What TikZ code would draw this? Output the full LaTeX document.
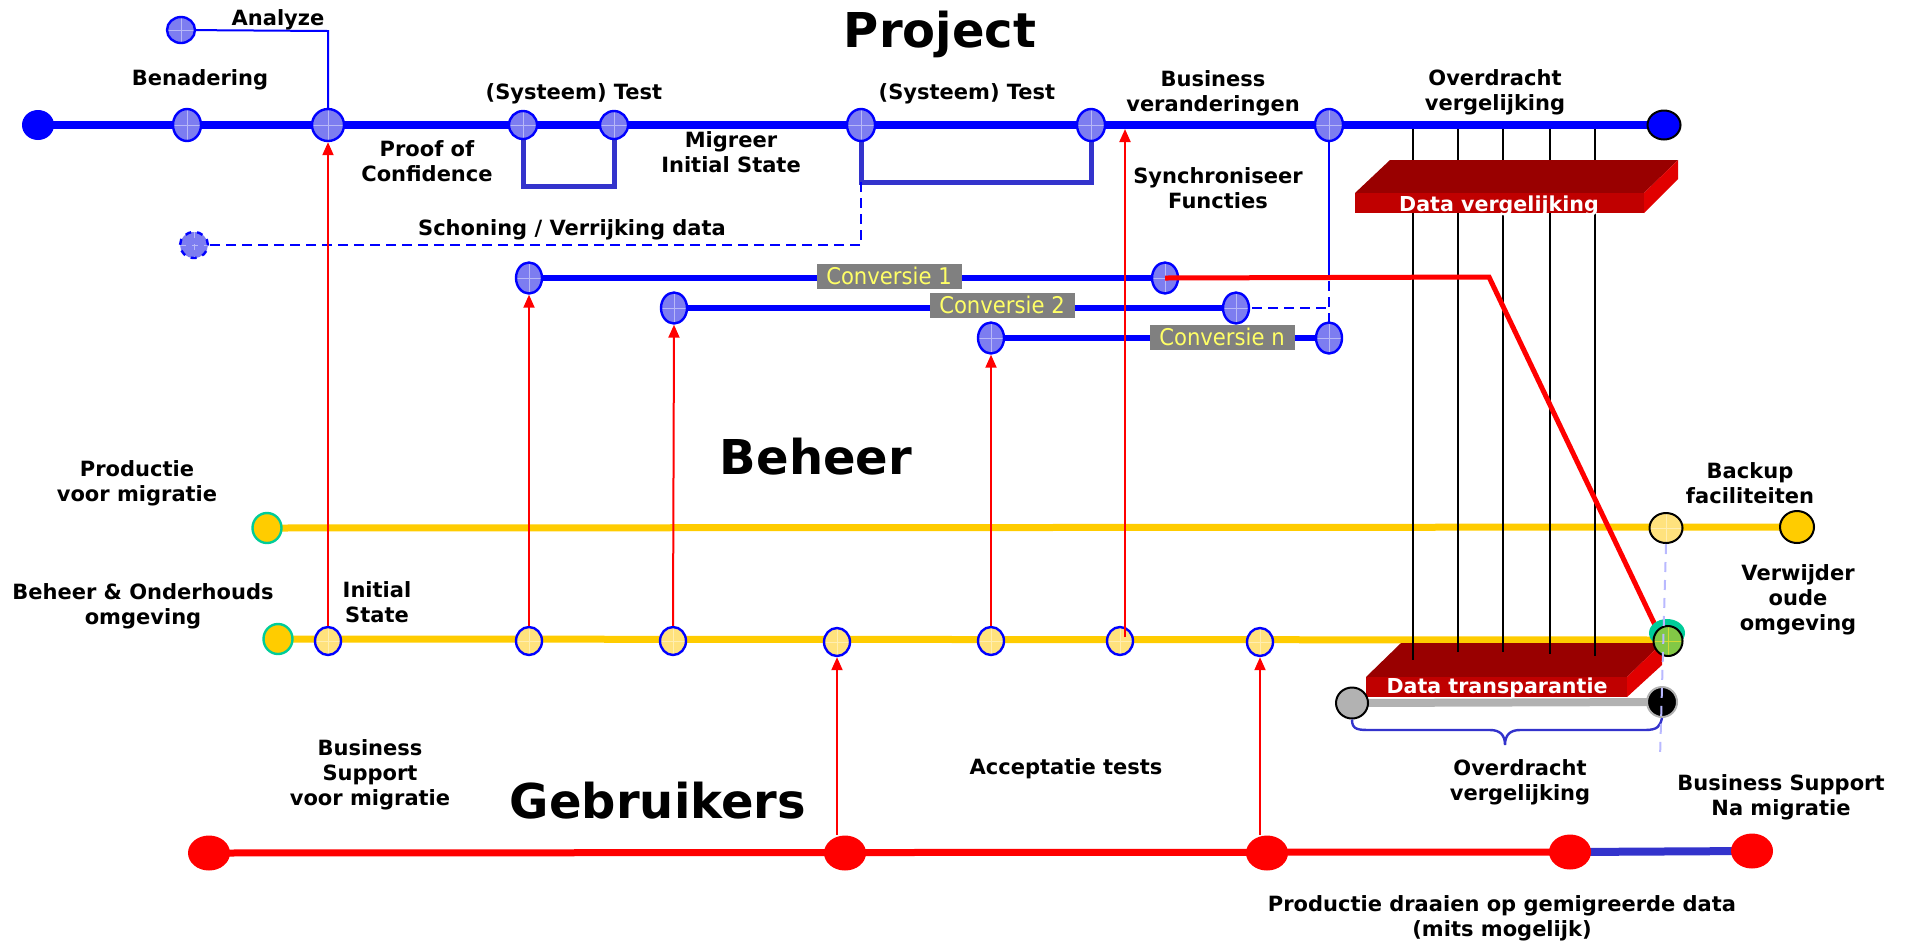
\documentclass[tikz,border=0pt]{standalone}
\usepackage{fontspec}
\setmainfont{DejaVu Sans}
\newfontfamily\convfont{DejaVu Sans}[FakeStretch=0.92]
\usetikzlibrary{shapes.geometric,arrows.meta,calc}
\definecolor{pblue}{RGB}{0,0,255}
\definecolor{nfill}{RGB}{125,125,240}
\definecolor{pyel}{RGB}{255,204,0}
\definecolor{lyel}{RGB}{255,226,125}
\definecolor{teal}{RGB}{0,204,153}
\definecolor{bblue}{RGB}{51,51,204}
\definecolor{boxtop}{RGB}{153,0,0}
\definecolor{boxfront}{RGB}{192,0,0}
\definecolor{boxside}{RGB}{225,0,0}
\definecolor{lgray}{RGB}{178,178,178}
\definecolor{cgray}{RGB}{128,128,128}
\definecolor{cyel}{RGB}{255,255,102}
\definecolor{dblue}{RGB}{185,185,255}
\definecolor{gnode}{RGB}{130,200,70}
\tikzset{
  lbl/.style={font=\bfseries\fontsize{10.5}{12.5}\selectfont, align=center, inner sep=0pt},
  ttl/.style={font=\bfseries\fontsize{24}{28}\selectfont, inner sep=0pt, anchor=base},
  cross/.style={path picture={\draw[#1, line width=0.4pt]
      (path picture bounding box.north) -- (path picture bounding box.south)
      (path picture bounding box.west) -- (path picture bounding box.east);}},
  hnode/.style={ellipse, draw=pblue, fill=nfill, line width=1.2pt, minimum width=14pt,
      minimum height=16pt, inner sep=0pt, cross=white!45!nfill},
  ynode/.style={ellipse, draw=pblue, fill=lyel, line width=1.2pt, minimum width=13pt,
      minimum height=14pt, inner sep=0pt, cross=white!40!lyel},
  tnode/.style={ellipse, draw=teal, fill=pyel, line width=1.2pt, minimum width=14.5pt,
      minimum height=15pt, inner sep=0pt},
  rnode/.style={ellipse, fill=red, minimum width=21pt, minimum height=17.5pt, inner sep=0pt},
  convbox/.style={fill=cgray, text=cyel, font=\convfont\fontsize{11.5}{13}\selectfont,
      minimum height=12.5pt, minimum width=72.5pt, inner sep=0pt},
  pline/.style={draw=pblue, line width=4pt},
  cline/.style={draw=pblue, line width=3pt},
  thinb/.style={draw=pblue, line width=1pt},
  bracket/.style={draw=bblue, line width=2.5pt},
  yline/.style={draw=pyel, line width=3.5pt},
  rarrow/.style={draw=red, line width=1pt, -{Triangle[length=6.5pt,width=5.5pt]}},
  blk/.style={draw=black, line width=1pt},
}
\begin{document}
\begin{tikzpicture}[x=0.5pt,y=-0.5pt]
\useasboundingbox (0,0) rectangle (1905,944);

% ---------- coordinates ----------
\coordinate (P0) at (38,125);
\coordinate (Pend) at (1664,125);
\coordinate (pBen) at (187,125);
\coordinate (pAna) at (328,125);
\coordinate (pT1a) at (523,125);
\coordinate (pT1b) at (614,125);
\coordinate (pT2a) at (861,125);
\coordinate (pT2b) at (1091,125);
\coordinate (pSync) at (1329,125);
\coordinate (aN) at (181,30);
\coordinate (sN) at (194,245);
\coordinate (c1a) at (529,278);
\coordinate (c1b) at (1165,278);
\coordinate (c2a) at (674,308);
\coordinate (c2b) at (1236,308);
\coordinate (cna) at (991,338);
\coordinate (cnb) at (1329,338);
\coordinate (prodL) at (267,528);
\coordinate (prodB) at (1666,528);
\coordinate (prodE) at (1797,527);
\coordinate (behL) at (278,639);
\coordinate (behE) at (1668,640);
\coordinate (g1) at (209,853);
\coordinate (g2) at (845,853);
\coordinate (g3) at (1267,853);
\coordinate (g4) at (1570,852);
\coordinate (g5) at (1752,851);
\coordinate (gN) at (1352,703);
\coordinate (kN) at (1662,702);

% ---------- lines ----------
\draw[pline] (P0) -- (Pend);
\draw[thinb] (aN) -- (328,31) -- (pAna);
\draw[bracket] (pT1a) -- (523,186) -- (614,186) -- (pT1b);
\draw[bracket] (pT2a) -- (861,182) -- (1091,182) -- (pT2b);
\draw[thinb, dash pattern=on 5pt off 3pt] (861,182) -- (861,245) -- (sN);
\draw[thinb] (pSync) -- (1329,265);
\draw[thinb, dash pattern=on 5pt off 3pt] (1329,265) -- (cnb);
\draw[cline] (c1a) -- (c1b);
\draw[thinb, dash pattern=on 5pt off 3pt] (c1b) -- (1329,278);
\draw[cline] (c2a) -- (c2b);
\draw[thinb, dash pattern=on 5pt off 3pt] (c2b) -- (1329,308);
\draw[cline] (cna) -- (cnb);

\draw[yline] (prodL) -- (prodE);
\draw[yline] (behL) -- (behE);

\draw[draw=red, line width=3.5pt] (g1) -- (g4);
\draw[draw=bblue, line width=4pt] (g4) -- (g5);

% lower box (Data transparantie)
\fill[boxtop] (1366,677) -- (1401,643) -- (1662,643) -- (1627,677) -- cycle;
\fill[boxside] (1627,677) -- (1662,643) -- (1662,665) -- (1627,697) -- cycle;
\fill[boxfront] (1366,677) rectangle (1627,697);
\node[lbl, text=white, font=\bfseries\fontsize{10.3}{12}\selectfont] (dtxt) at (1497,688) {Data transparantie};
\draw[draw=lgray, line width=4pt] (gN) -- (kN);

% black comparison lines
\foreach \x/\e [count=\i] in {1413/660,1458/652,1503/652,1550/654,1595/656} {
  \coordinate (bt\i) at (\x,129);
  \coordinate (bb\i) at (\x,\e);
  \draw[blk] (bt\i) -- (bb\i);
}

% upper box (Data vergelijking)
\fill[boxtop] (1355,193) -- (1390,160) -- (1678,160) -- (1644,193) -- cycle;
\fill[boxside] (1644,193) -- (1678,160) -- (1678,179) -- (1644,213) -- cycle;
\fill[boxfront] (1355,193) rectangle (1644,213);
\node[lbl, text=white, font=\bfseries\fontsize{10.3}{12}\selectfont] (vtxt) at (1499,206) {Data vergelijking};

% ---------- nodes ----------
\node[ellipse, fill=pblue, minimum width=16pt, minimum height=15pt, inner sep=0pt] (nP0) at (P0) {};
\node[ellipse, fill=pblue, draw=black, line width=1pt, minimum width=16.5pt, minimum height=14.5pt, inner sep=0pt] (nPend) at (Pend) {};
\node[hnode] (nBen) at (pBen) {};
\node[hnode, minimum width=16pt] (nAna) at (pAna) {};
\node[hnode, minimum height=14pt] (nT1a) at (pT1a) {};
\node[hnode, minimum height=14pt] (nT1b) at (pT1b) {};
\node[hnode] (nT2a) at (pT2a) {};
\node[hnode] (nT2b) at (pT2b) {};
\node[hnode] (nSync) at (pSync) {};
\node[hnode, minimum height=13pt] (nAN) at (aN) {};
\node[hnode, dashed, minimum height=13pt] (nSN) at (sN) {};
\node[hnode, minimum width=13pt, minimum height=15.5pt] (nc1a) at (c1a) {};
\node[hnode, minimum width=13pt, minimum height=15.5pt] (nc1b) at (c1b) {};
\node[hnode, minimum width=13pt, minimum height=15.5pt] (nc2a) at (c2a) {};
\node[hnode, minimum width=13pt, minimum height=15.5pt] (nc2b) at (c2b) {};
\node[hnode, minimum width=13pt, minimum height=15.5pt] (ncna) at (cna) {};
\node[hnode, minimum width=13pt, minimum height=15.5pt] (ncnb) at (cnb) {};

\node[convbox] (conv1) at (889,276) {Conversie 1};
\node[convbox] (conv2) at (1002,305) {Conversie 2};
\node[convbox] (convn) at (1222,337) {Conversie n};

% red line from Conversie 1 to the end of Beheer
\coordinate (rk) at (1489,277);
\draw[draw=red, line width=2.5pt] (nc1b.center) -- (rk) -- (1655,625);

\node[tnode] (nProdL) at (prodL) {};
\node[tnode] (nBehL) at (behL) {};
\node[ellipse, draw=black, fill=lyel, line width=1pt, minimum width=16.5pt, minimum height=15pt, inner sep=0pt, cross=white!40!lyel] (nProdB) at (prodB) {};
\node[ellipse, draw=black, fill=pyel, line width=1pt, minimum width=17pt, minimum height=16pt, inner sep=0pt] (nProdE) at (prodE) {};

\foreach \n/\x/\y in {b1/328/641,b2/529/641,b3/673/641,b4/837/642,b5/991/641,b6/1120/641,b7/1260/642}
  \node[ynode] (\n) at (\x,\y) {};

\node[ellipse, fill=teal, minimum width=18pt, minimum height=14pt, inner sep=0pt] (nTealE) at (1667,633) {};
\node[ellipse, draw=black, fill=gnode, line width=1pt, minimum width=14.5pt, minimum height=15pt, inner sep=0pt, cross=yellow!60!gnode] (nBehE) at (1668,641) {};

\node[ellipse, draw=black, fill=lgray, line width=1pt, minimum width=16pt, minimum height=15.5pt, inner sep=0pt] (ngN) at (gN) {};
\node[ellipse, draw=lgray, fill=black, line width=1pt, minimum width=15pt, minimum height=15pt, inner sep=0pt] (nkN) at (kN) {};

\node[rnode] (ng1) at (g1) {};
\node[rnode] (ng2) at (g2) {};
\node[rnode] (ng3) at (g3) {};
\node[rnode] (ng4) at (g4) {};
\node[rnode] (ng5) at (g5) {};

% brace
\draw[draw=bblue, line width=1.2pt] (ngN.south) .. controls (1352,730) and (1358,730) .. (1372,730)
  -- (1490,730) .. controls (1500,730) and (1505,735) .. (1505,745)
  .. controls (1505,735) and (1510,730) .. (1520,730) -- (1645,730)
  .. controls (1658,730) and (1660,726) .. (nkN.south);

% dashed light-blue vertical
\coordinate (dEnd) at (1660,758);
\draw[draw=dblue, line width=1pt, dash pattern=on 5pt off 4pt] (nProdB.south) -- (dEnd);

% ---------- red arrows ----------
\draw[rarrow] (b1.north) -- (nAna.south);
\draw[rarrow] (b2.north) -- (nc1a.south);
\draw[rarrow] (b3.north) -- (nc2a.south);
\draw[rarrow] (b5.north) -- (ncna.south);
\coordinate (r6a) at (1125,637);
\coordinate (r6b) at (1125,129);
\draw[rarrow] (r6a) -- (r6b);
\draw[rarrow] (b4.south |- ng2.north) -- (b4.south);
\draw[rarrow] (b7.south |- ng3.north) -- (b7.south);

% ---------- texts ----------
\node[ttl] (tProject) at (940,47) {Project};
\node[ttl] (tBeheer) at (816,474) {Beheer};
\node[ttl] (tGebr) at (658,818) {Gebruikers};

\node[lbl] (lAna) at (278,20) {Analyze};
\node[lbl] (lBen) at (200,80) {Benadering};
\node[lbl] (lT1) at (574,94) {(Systeem) Test};
\node[lbl] (lProof) at (427,161) {Proof of\\Confidence};
\node[lbl] (lMig) at (731,152) {Migreer\\Initial State};
\node[lbl] (lT2) at (967,94) {(Systeem) Test};
\node[lbl] (lBus) at (1213,93) {Business\\veranderingen};
\node[lbl] (lSync) at (1218,188) {Synchroniseer\\Functies};
\node[lbl] (lOv1) at (1495,92) {Overdracht\\vergelijking};
\node[lbl] (lSch) at (572,230) {Schoning / Verrijking data};
\node[lbl] (lProd) at (137,483) {Productie\\voor migratie};
\node[lbl] (lBeh) at (143,606) {Beheer \& Onderhouds\\omgeving};
\node[lbl] (lInit) at (377,602) {Initial\\State};
\node[lbl] (lBS) at (370,775) {Business\\Support\\voor migratie};
\node[lbl] (lAcc) at (1066,769) {Acceptatie tests};
\node[lbl] (lPD) at (1502,918) {Productie draaien op gemigreerde data\\(mits mogelijk)};
\node[lbl] (lBack) at (1750,483) {Backup\\faciliteiten};
\node[lbl] (lVer) at (1798,600) {Verwijder\\oude\\omgeving};
\node[lbl] (lOv2) at (1520,782) {Overdracht\\vergelijking};
\node[lbl] (lBSN) at (1781,797) {Business Support\\Na migratie};
\end{tikzpicture}
\end{document}
